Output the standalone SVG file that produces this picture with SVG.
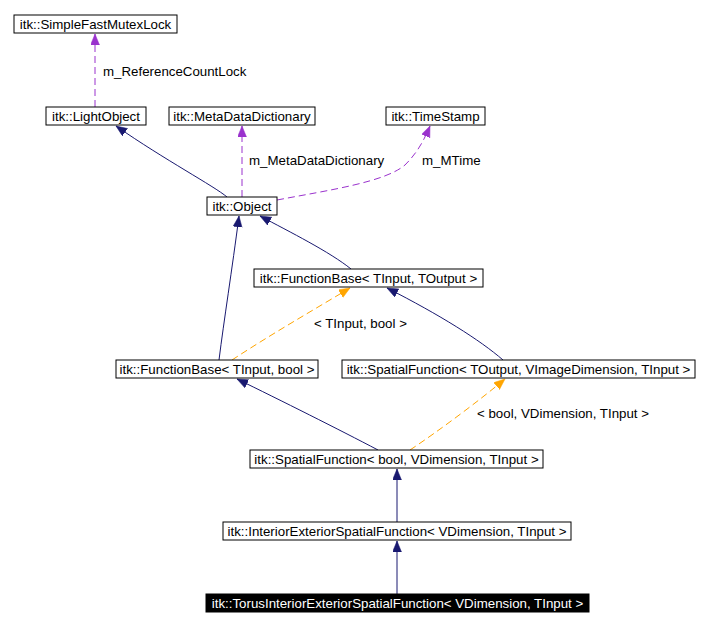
<svg xmlns="http://www.w3.org/2000/svg" width="708" height="627" viewBox="0 0 708 627">
<style>
  text { font-family: "Liberation Sans", Arial, sans-serif; font-size: 13.3px; fill: #000; }
  .node rect { fill: #fff; stroke: #000; stroke-width: 1; }
  .node text { text-anchor: middle; }
  .sel rect { fill: #000; }
  .sel text { fill: #fff; }
  .edge { fill: none; stroke-width: 1; }
  .inh { stroke: #191970; marker-end: url(#aN); }
  .use { stroke: #9a32cd; stroke-dasharray: 7,4; marker-end: url(#aP); }
  .tpl { stroke: #ffa500; stroke-dasharray: 7,4; marker-end: url(#aO); }
</style>
<defs>
  <marker id="aN" markerUnits="userSpaceOnUse" markerWidth="12" markerHeight="10" refX="11" refY="4.5" orient="auto">
    <path d="M0,0 L11,4.5 L0,9 z" fill="#191970" stroke="#191970" stroke-width="0.5"/>
  </marker>
  <marker id="aP" markerUnits="userSpaceOnUse" markerWidth="12" markerHeight="10" refX="11" refY="4.5" orient="auto">
    <path d="M0,0 L11,4.5 L0,9 z" fill="#9a32cd" stroke="#9a32cd" stroke-width="0.5"/>
  </marker>
  <marker id="aO" markerUnits="userSpaceOnUse" markerWidth="12" markerHeight="10" refX="11" refY="4.5" orient="auto">
    <path d="M0,0 L11,4.5 L0,9 z" fill="#ffa500" stroke="#ffa500" stroke-width="0.5"/>
  </marker>
</defs>
<rect width="708" height="627" fill="#fff"/>
<g id="edges">
  <path class="edge use" d="M95,107 L95,34"/>
  <text x="103" y="76">m_ReferenceCountLock</text>
  <path class="edge inh" d="M227,197 C214,186 165,160 116,126"/>
  <path class="edge use" d="M242,197 L242,126"/>
  <text x="249" y="165">m_MetaDataDictionary</text>
  <path class="edge use" d="M277,200 C330,190 385,182 405,165 C418,152 424,140 430,126"/>
  <text x="422" y="165">m_MTime</text>
  <path class="edge inh" d="M219,360 C224,320 232,270 239,216"/>
  <path class="edge inh" d="M351,269 C330,252 290,232 260,216"/>
  <path class="edge tpl" d="M232,360 C270,335 310,312 350,288"/>
  <text x="314" y="328">&lt; TInput, bool &gt;</text>
  <path class="edge inh" d="M503,360 C480,340 440,315 387,288"/>
  <path class="edge inh" d="M378,450 C340,430 280,400 237,379"/>
  <path class="edge tpl" d="M410,450 C440,430 480,400 505,379"/>
  <text x="477" y="418">&lt; bool, VDimension, TInput &gt;</text>
  <path class="edge inh" d="M397,522 L397,469"/>
  <path class="edge inh" d="M397,594 L397,541"/>
</g>
<g id="n_sfml" class="node"><rect x="14" y="15" width="163" height="18"/><text x="95.5" y="28.5">itk::SimpleFastMutexLock</text></g>
<g id="n_lightobject" class="node"><rect x="46" y="107" width="100" height="18"/><text x="96" y="120.5">itk::LightObject</text></g>
<g id="n_mdd" class="node"><rect x="169" y="107" width="146" height="18"/><text x="242" y="120.5">itk::MetaDataDictionary</text></g>
<g id="n_timestamp" class="node"><rect x="386" y="107" width="99" height="18"/><text x="435.5" y="120.5">itk::TimeStamp</text></g>
<g id="n_object" class="node"><rect x="207" y="197" width="70" height="18"/><text x="242" y="210.5">itk::Object</text></g>
<g id="n_fb_to" class="node"><rect x="254" y="269" width="229" height="18"/><text x="368.5" y="282.5">itk::FunctionBase&lt; TInput, TOutput &gt;</text></g>
<g id="n_fb_bool" class="node"><rect x="116" y="360" width="202" height="18"/><text x="217" y="373.5">itk::FunctionBase&lt; TInput, bool &gt;</text></g>
<g id="n_sf_to" class="node"><rect x="342" y="360" width="353" height="18"/><text x="518.5" y="373.5">itk::SpatialFunction&lt; TOutput, VImageDimension, TInput &gt;</text></g>
<g id="n_sf_bool" class="node"><rect x="250" y="450" width="293" height="18"/><text x="396.5" y="463.5">itk::SpatialFunction&lt; bool, VDimension, TInput &gt;</text></g>
<g id="n_ie" class="node"><rect x="223" y="522" width="348" height="18"/><text x="397" y="535.5">itk::InteriorExteriorSpatialFunction&lt; VDimension, TInput &gt;</text></g>
<g id="n_torus" class="node sel"><rect x="206" y="594" width="383" height="18"/><text x="397.5" y="607.5">itk::TorusInteriorExteriorSpatialFunction&lt; VDimension, TInput &gt;</text></g>
</svg>
